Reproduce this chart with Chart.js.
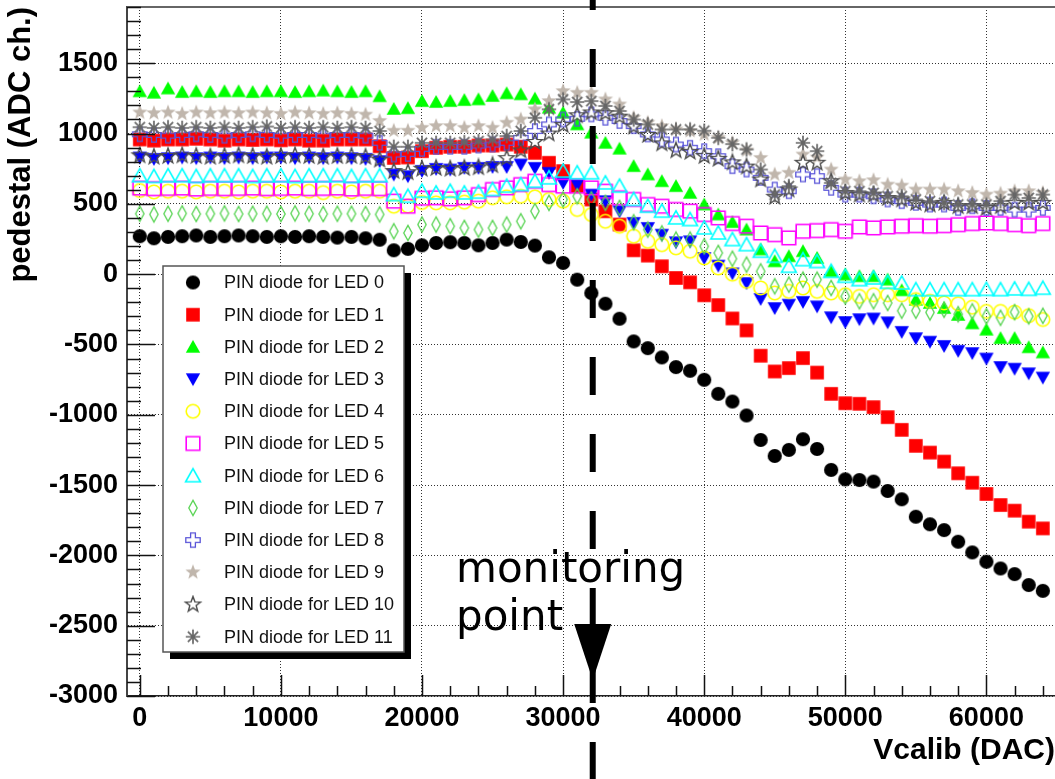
<!DOCTYPE html>
<html>
<head>
<meta charset="utf-8">
<script src="https://cdn.jsdelivr.net/npm/chart.js@4.4.0/dist/chart.umd.min.js"></script>
<style>
  html, body { margin: 0; padding: 0; background: #fff; }
  #chart { display: block; }
</style>
</head>
<body>
<canvas id="chart" width="1055" height="779"></canvas>
<script>
// Vcalib settings (DAC)
const VCALIB = [0, 1000, 2000, 3000, 4000, 5000, 6000, 7000, 8000, 9000,
  10000, 11000, 12000, 13000, 14000, 15000, 16000, 17000, 18000, 19000,
  20000, 21000, 22000, 23000, 24000, 25000, 26000, 27000, 28000, 29000,
  30000, 31000, 32000, 33000, 34000, 35000, 36000, 37000, 38000, 39000,
  40000, 41000, 42000, 43000, 44000, 45000, 46000, 47000, 48000, 49000,
  50000, 51000, 52000, 53000, 54000, 55000, 56000, 57000, 58000, 59000,
  60000, 61000, 62000, 63000, 64000];

// pedestal (ADC ch.) for the PIN diode of each LED
const LED_0 = [270, 255, 265, 270, 275, 265, 270, 275, 270, 265, 270, 265, 270, 265, 260, 265, 255, 245,
  170, 180, 205, 222, 227, 222, 205, 222, 246, 229, 203, 120, 80, -39, -134, -210, -317, -478, -526, -592,
  -661, -687, -751, -851, -906, -1005, -1179, -1293, -1250, -1174, -1243, -1392, -1459, -1464, -1475, -1542,
  -1601, -1725, -1779, -1820, -1903, -1979, -2045, -2093, -2133, -2211, -2252];
const LED_1 = [958, 950, 958, 958, 963, 958, 950, 958, 955, 958, 952, 958, 950, 950, 958, 958, 958,
  910, 827, 830, 875, 899, 906, 906, 915, 915, 922, 906, 863, 792, 733, 626, 531, 447, 353, 170, 132, 56,
  -27, -58, -150, -220, -315, -400, -580, -692, -668, -597, -700, -851, -918, -922, -946, -1017, -1107,
  -1221, -1269, -1333, -1416, -1483, -1563, -1642, -1682, -1760, -1808];
const LED_2 = [1300, 1290, 1320, 1295, 1300, 1295, 1300, 1300, 1295, 1300, 1300, 1295, 1300, 1305, 1300, 1295, 1300,
  1265, 1175, 1180, 1231, 1224, 1231, 1238, 1243, 1267, 1286, 1279, 1248, 1184, 1148, 1065, 1006, 934, 892,
  768, 709, 661, 626, 578, 495, 424, 370, 317, 175, 91, 127, 163, 115, 20, -3, -15, -15, -39, -115, -182,
  -205, -241, -290, -350, -395, -455, -455, -520, -557];
const LED_3 = [830, 820, 825, 830, 825, 830, 825, 830, 825, 830, 830, 825, 830, 825, 830, 825, 820,
  804, 709, 697, 735, 749, 744, 756, 756, 763, 763, 780, 756, 721, 649, 637, 566, 519, 448, 365, 329, 281,
  227, 234, 115, 61, 6, -63, -176, -241, -217, -197, -229, -306, -340, -320, -315, -342, -410, -455, -480,
  -510, -545, -561, -600, -660, -672, -705, -735];
const LED_4 = [595, 585, 590, 590, 585, 590, 590, 585, 590, 590, 585, 590, 590, 580, 590, 585, 590, 590,
  483, 485, 510, 507, 507, 512, 519, 543, 550, 554, 550, 531, 519, 460, 424, 376, 341, 270, 234, 210, 187,
  163, 115, 44, 0, -51, -98, -134, -122, -98, -122, -134, -146, -158, -146, -146, -146, -181, -193, -205,
  -210, -235, -265, -265, -270, -295, -322];
const LED_5 = [612, 608, 610, 612, 605, 610, 608, 610, 612, 608, 610, 612, 608, 610, 612, 605, 610, 608,
  519, 483, 540, 543, 536, 543, 566, 602, 614, 637, 661, 637, 626, 626, 614, 590, 543, 531, 495, 483, 460,
  448, 424, 400, 360, 341, 293, 281, 258, 305, 310, 317, 305, 336, 329, 336, 341, 345, 341, 345, 352, 360,
  364, 360, 352, 345, 360];
const LED_6 = [700, 695, 700, 700, 695, 700, 700, 700, 695, 700, 700, 695, 700, 700, 700, 695, 700, 700,
  566, 554, 590, 578, 590, 578, 583, 602, 626, 637, 661, 685, 733, 721, 721, 649, 626, 531, 483, 448, 400,
  388, 329, 293, 246, 210, 163, 127, 56, 103, 90, 20, -15, -39, -27, -58, -63, -110, -110, -110, -110,
  -110, -108, -110, -105, -108, -100];
const LED_7 = [430, 425, 430, 432, 428, 430, 432, 428, 430, 430, 428, 432, 430, 428, 430, 430, 428, 425,
  305, 293, 353, 353, 341, 329, 317, 329, 353, 376, 448, 507, 531, 554, 531, 507, 471, 369, 317, 290, 246,
  246, 198, 151, 110, 68, 20, -86, -74, -39, -39, -98, -158, -193, -193, -205, -260, -260, -272, -253,
  -285, -265, -300, -310, -270, -300, -296];
const LED_8 = [995, 990, 985, 990, 995, 990, 985, 990, 995, 990, 985, 990, 990, 985, 990, 990, 985,
  934, 851, 855, 891, 906, 906, 906, 915, 922, 934, 970, 1018, 1065, 1100, 1105, 1136, 1112, 1089, 1053,
  994, 958, 922, 899, 875, 839, 768, 744, 685, 602, 590, 709, 697, 614, 566, 566, 554, 531, 519, 507, 495,
  495, 471, 483, 471, 471, 459, 459, 471];
const LED_9 = [1150, 1145, 1150, 1140, 1150, 1145, 1150, 1145, 1150, 1145, 1140, 1150, 1145, 1140, 1145, 1140, 1135,
  1090, 1020, 1020, 1041, 1053, 1053, 1041, 1053, 1041, 1077, 1100, 1172, 1231, 1302, 1290, 1290, 1243,
  1207, 1112, 1077, 1053, 1029, 1018, 994, 970, 934, 880, 827, 709, 721, 851, 830, 744, 673, 661, 668, 637,
  630, 602, 602, 602, 590, 578, 566, 573, 590, 590, 578];
const LED_10 = [845, 835, 840, 845, 840, 835, 840, 845, 840, 835, 840, 845, 840, 835, 840, 840, 835,
  815, 733, 725, 750, 755, 750, 755, 760, 775, 825, 880, 940, 1000, 1060, 1130, 1150, 1145, 1120, 1050,
  990, 930, 880, 870, 840, 820, 795, 765, 673, 550, 602, 792, 792, 661, 578, 566, 566, 542, 531, 507, 495,
  507, 483, 483, 471, 483, 507, 507, 507];
const LED_11 = [1045, 1040, 1045, 1040, 1045, 1040, 1045, 1040, 1045, 1050, 1040, 1045, 1040, 1045, 1040, 1045, 1040,
  1018, 906, 906, 934, 934, 934, 939, 946, 958, 982, 1018, 1112, 1172, 1243, 1224, 1231, 1196, 1160, 1100,
  1065, 1029, 1029, 1029, 1020, 970, 925, 887, 744, 566, 626, 934, 875, 649, 590, 590, 578, 554, 554, 531,
  519, 507, 495, 495, 495, 519, 566, 542, 566];

const SERIES = [LED_0, LED_1, LED_2, LED_3, LED_4, LED_5, LED_6, LED_7, LED_8, LED_9, LED_10, LED_11];
const LABELS = ['PIN diode for LED 0', 'PIN diode for LED 1', 'PIN diode for LED 2', 'PIN diode for LED 3',
  'PIN diode for LED 4', 'PIN diode for LED 5', 'PIN diode for LED 6', 'PIN diode for LED 7',
  'PIN diode for LED 8', 'PIN diode for LED 9', 'PIN diode for LED 10', 'PIN diode for LED 11'];
const X_TICKS = [0, 10000, 20000, 30000, 40000, 50000, 60000];
const Y_TICKS = [-3000, -2500, -2000, -1500, -1000, -500, 0, 500, 1000, 1500];
const MONITOR_X = 32100;

const MARKERS = ['circle', 'square', 'triUp', 'triDown', 'openCircle', 'openSquare',
  'openTriUp', 'openDiamond', 'openCross', 'star', 'openStar', 'asterisk'];
const COLORS = ['#000000', '#ff0000', '#00ff00', '#0000ff', '#ffff00', '#ff00ff',
  '#00ffff', '#59d454', '#5954d8', '#c0b6ac', '#4c4c4c', '#666666'];

function starPath(g, ro, ri) {
  for (let i = 0; i < 10; i++) {
    let a = -Math.PI / 2 + i * Math.PI / 5;
    let r = (i % 2 === 0) ? ro : ri;
    if (i === 0) g.moveTo(r * Math.cos(a), r * Math.sin(a));
    else g.lineTo(r * Math.cos(a), r * Math.sin(a));
  }
  g.closePath();
}

function makeMarker(kind, color) {
  let c = document.createElement('canvas');
  c.width = 20;
  c.height = 20;
  let g = c.getContext('2d');
  g.translate(10, 10);
  g.fillStyle = color;
  g.strokeStyle = color;
  g.lineWidth = 1.6;
  g.beginPath();
  if (kind === 'circle') { g.arc(0, 0, 7.1, 0, 2 * Math.PI); g.fill(); }
  if (kind === 'square') { g.rect(-6.8, -6.8, 13.6, 13.6); g.fill(); }
  if (kind === 'triUp') { g.moveTo(0, -7); g.lineTo(7.2, 5.8); g.lineTo(-7.2, 5.8); g.closePath(); g.fill(); }
  if (kind === 'triDown') { g.moveTo(0, 7); g.lineTo(7.2, -5.8); g.lineTo(-7.2, -5.8); g.closePath(); g.fill(); }
  if (kind === 'openCircle') { g.arc(0, 0, 6.8, 0, 2 * Math.PI); g.stroke(); }
  if (kind === 'openSquare') { g.rect(-6.8, -6.8, 13.6, 13.6); g.stroke(); }
  if (kind === 'openTriUp') { g.moveTo(0, -7.2); g.lineTo(7.4, 6); g.lineTo(-7.4, 6); g.closePath(); g.stroke(); }
  if (kind === 'openDiamond') {
    g.lineWidth = 1.3;
    g.moveTo(0, -7.6); g.lineTo(4.2, 0); g.lineTo(0, 7.6); g.lineTo(-4.2, 0); g.closePath(); g.stroke();
  }
  if (kind === 'openCross') {
    let a = 2.4, r = 7.2;
    g.lineWidth = 1.3;
    g.moveTo(-a, -r); g.lineTo(a, -r); g.lineTo(a, -a); g.lineTo(r, -a); g.lineTo(r, a); g.lineTo(a, a);
    g.lineTo(a, r); g.lineTo(-a, r); g.lineTo(-a, a); g.lineTo(-r, a); g.lineTo(-r, -a); g.lineTo(-a, -a);
    g.closePath(); g.stroke();
  }
  if (kind === 'star') { starPath(g, 8, 3.3); g.fill(); }
  if (kind === 'openStar') { g.lineWidth = 1.4; starPath(g, 8, 3.3); g.stroke(); }
  if (kind === 'asterisk') {
    g.lineWidth = 1.7;
    for (let i = 0; i < 4; i++) {
      let a = i * Math.PI / 4;
      g.moveTo(-7.2 * Math.cos(a), -7.2 * Math.sin(a));
      g.lineTo(7.2 * Math.cos(a), 7.2 * Math.sin(a));
    }
    g.stroke();
  }
  return c;
}

const markerImages = MARKERS.map(function(m, i) { return makeMarker(m, COLORS[i]); });

let datasets = SERIES.map(function(values, i) {
  return {
    label: LABELS[i],
    data: VCALIB.map(function(x, k) { return {x: x, y: values[k]}; }),
    pointStyle: markerImages[i],
    pointRadius: 7,
    showLine: false,
    order: 11 - i
  };
});

// frame top, ticks inside the frame, legend box and the monitoring point arrow
const extras = {
  id: 'extras',
  afterDraw: function(chart) {
    let g = chart.ctx;
    let area = chart.chartArea;
    let xs = chart.scales.x;
    let ys = chart.scales.y;
    g.save();

    g.strokeStyle = '#666';
    g.lineWidth = 2;
    g.beginPath();
    g.moveTo(area.left, area.top);
    g.lineTo(area.right, area.top);
    g.stroke();

    g.strokeStyle = '#111';
    g.lineWidth = 1.5;
    g.beginPath();
    for (let v = -3000; v <= 1900; v += 100) {
      let py = Math.round(ys.getPixelForValue(v)) + 0.5;
      let len = (v % 500 === 0) ? 28 : 14;
      g.moveTo(area.left, py);
      g.lineTo(area.left + len, py);
    }
    for (let v = 0; v <= 64000; v += 2000) {
      let px = Math.round(xs.getPixelForValue(v)) + 0.5;
      let len = (v % 10000 === 0) ? 21 : 10;
      g.moveTo(px, area.bottom);
      g.lineTo(px, area.bottom - len);
    }
    g.stroke();

    // legend
    let bx = 163, by = 266, bw = 241, bh = 386;
    g.fillStyle = '#000';
    g.fillRect(bx + 7, by + 7, bw, bh);
    g.fillStyle = '#fff';
    g.fillRect(bx, by, bw, bh);
    g.strokeStyle = '#555';
    g.lineWidth = 1.5;
    g.strokeRect(bx, by, bw, bh);
    g.font = '18px "Liberation Sans", Arial, sans-serif';
    g.fillStyle = '#111';
    g.textBaseline = 'middle';
    g.textAlign = 'left';
    for (let i = 0; i < LABELS.length; i++) {
      let ry = 282.5 + i * 32.2;
      g.drawImage(markerImages[i], 193 - 10, ry - 10);
      g.fillText(LABELS[i], 224, ry + 1);
    }

    // monitoring point
    let mx = xs.getPixelForValue(MONITOR_X);
    g.strokeStyle = '#000';
    g.lineWidth = 6;
    g.setLineDash([38, 39]);
    g.lineDashOffset = 28;
    g.beginPath();
    g.moveTo(mx, 0);
    g.lineTo(mx, chart.height);
    g.stroke();
    g.setLineDash([]);
    g.fillStyle = '#000';
    g.beginPath();
    g.moveTo(mx - 18.5, 624);
    g.lineTo(mx + 18.5, 624);
    g.lineTo(mx, 680);
    g.closePath();
    g.fill();

    g.font = '42px "DejaVu Sans", sans-serif';
    g.textBaseline = 'alphabetic';
    g.fillText('monitoring', 456, 582);
    g.fillText('point', 456, 630);

    g.restore();
  }
};

const ctx = document.getElementById('chart').getContext('2d');
const chart = new Chart(ctx, {
  type: 'scatter',
  data: { datasets: datasets },
  options: {
    responsive: false,
    animation: false,
    devicePixelRatio: 1,
    layout: { autoPadding: false, padding: { top: 7, right: 0, left: 0, bottom: 0 } },
    plugins: {
      legend: { display: false },
      tooltip: { enabled: false }
    },
    scales: {
      x: {
        type: 'linear',
        min: -907,
        max: 64862,
        afterBuildTicks: function(scale) {
          scale.ticks = X_TICKS.map(function(v) { return {value: v}; });
        },
        afterFit: function(scale) {
          scale.height = 83;
          scale.paddingLeft = 0;
          scale.paddingRight = 0;
        },
        ticks: {
          autoSkip: false,
          maxRotation: 0,
          padding: 6,
          color: '#000',
          font: { family: '"Liberation Sans", Arial, sans-serif', size: 27, weight: 'bold' },
          callback: function(v) { return String(v); }
        },
        grid: { color: '#333', lineWidth: 1, drawTicks: false },
        border: { color: '#222', width: 1.5, dash: [1, 2] },
        title: {
          display: true,
          text: 'Vcalib (DAC)',
          align: 'end',
          color: '#000',
          font: { family: '"Liberation Sans", Arial, sans-serif', size: 30, weight: 'bold' },
          padding: { top: 0, bottom: 10 }
        }
      },
      y: {
        type: 'linear',
        min: -3000,
        max: 1900,
        afterBuildTicks: function(scale) {
          scale.ticks = Y_TICKS.map(function(v) { return {value: v}; });
        },
        afterFit: function(scale) {
          scale.width = 127;
          scale.paddingTop = 0;
          scale.paddingBottom = 0;
        },
        ticks: {
          padding: 9,
          color: '#000',
          font: { family: '"Liberation Sans", Arial, sans-serif', size: 27, weight: 'bold' },
          callback: function(v) { return String(v); }
        },
        grid: { color: '#333', lineWidth: 1, drawTicks: false },
        border: { color: '#444', width: 2, dash: [1, 2] },
        title: {
          display: true,
          text: 'pedestal (ADC ch.)',
          align: 'end',
          color: '#000',
          font: { family: '"Liberation Sans", Arial, sans-serif', size: 31, weight: 'bold' },
          padding: { top: 3, bottom: 0 }
        }
      }
    }
  },
  plugins: [extras]
});
</script>
</body>
</html>
